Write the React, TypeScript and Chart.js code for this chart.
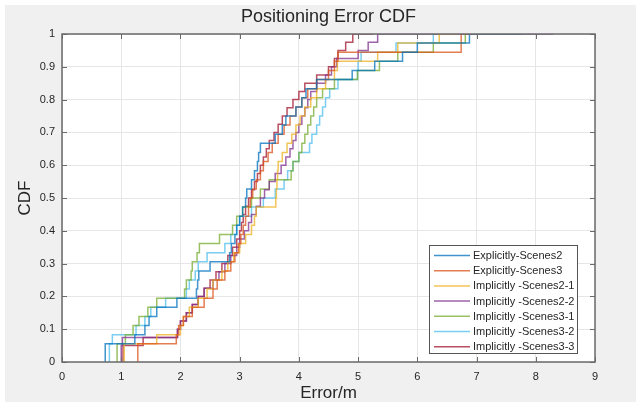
import React, { useEffect, useRef } from "react";
import { Chart, registerables } from "chart.js";

Chart.register(...registerables);

const TITLE = "Positioning Error CDF";
const X_LABEL = "Error/m";
const Y_LABEL = "CDF";

const SERIES_NAMES = [
  "Explicitly-Scenes2",
  "Explicitly-Scenes3",
  "Implicitly -Scenes2-1",
  "Implicitly -Scenes2-2",
  "Implicitly -Scenes3-1",
  "Implicitly -Scenes3-2",
  "Implicitly -Scenes3-3",
];

const SERIES_COLORS = [
  "rgba(0,114,189,0.75)",
  "rgba(217,83,25,0.75)",
  "rgba(237,177,32,0.75)",
  "rgba(126,47,142,0.75)",
  "rgba(119,172,48,0.75)",
  "rgba(77,190,238,0.75)",
  "rgba(162,20,47,0.75)",
];

// Error samples (m) for each method, read from the CDF steps
const EXPLICIT_S2 = [0.73, 1.23, 1.4, 1.47, 1.6, 1.94, 2.27, 2.29, 2.31, 2.5, 2.83, 2.86, 2.92, 2.95, 3.0, 3.05, 3.1, 3.12, 3.2, 3.25, 3.3, 3.32, 3.35, 3.6, 3.72, 3.78, 3.95, 4.05, 4.12, 4.3, 4.9, 5.28, 5.75, 6.0, 6.88, 7.76];
const EXPLICIT_S3 = [1.28, 1.93, 1.97, 2.05, 2.2, 2.4, 2.55, 2.62, 2.75, 2.85, 2.92, 2.98, 3.02, 3.06, 3.1, 3.15, 3.18, 3.22, 3.28, 3.35, 3.4, 3.48, 3.55, 3.65, 3.75, 3.85, 3.95, 4.05, 4.15, 4.3, 4.5, 4.6, 4.66, 6.74, 6.74, 7.03];
const IMPLICIT_S2_1 = [1.05, 1.6, 2.0, 2.05, 2.15, 2.3, 2.45, 2.55, 2.7, 2.8, 2.9, 3.0, 3.1, 3.2, 3.25, 3.28, 3.61, 3.62, 3.63, 3.64, 3.65, 3.72, 3.8, 3.88, 3.95, 4.02, 4.1, 4.2, 4.3, 4.45, 4.6, 4.65, 5.33, 5.67, 6.37, 6.68];
const IMPLICIT_S2_2 = [1.0, 1.02, 1.95, 2.0, 2.1, 2.2, 2.3, 2.4, 2.55, 2.65, 2.75, 2.85, 2.95, 3.0, 3.08, 3.15, 3.2, 3.28, 3.35, 3.42, 3.5, 3.6, 3.7, 3.78, 3.85, 3.9, 3.95, 4.0, 4.05, 4.1, 4.15, 4.2, 4.3, 4.45, 4.55, 4.64, 5.0, 5.17, 5.33, 8.29];
const IMPLICIT_S3_1 = [0.93, 1.07, 1.2, 1.3, 1.45, 1.6, 2.07, 2.1, 2.18, 2.2, 2.28, 2.32, 2.66, 2.88, 2.95, 3.05, 3.2, 3.35, 3.5, 3.87, 3.9, 4.0, 4.05, 4.1, 4.15, 4.2, 4.25, 4.3, 4.4, 4.6, 4.99, 5.36, 5.67, 6.27, 6.81, 6.99];
const IMPLICIT_S3_2 = [0.8, 0.85, 1.25, 1.4, 1.5, 1.75, 2.1, 2.15, 2.25, 2.3, 2.45, 2.75, 2.85, 2.95, 3.0, 3.2, 3.4, 3.6, 3.75, 3.81, 3.9, 4.0, 4.18, 4.22, 4.3, 4.35, 4.4, 4.45, 4.52, 4.66, 4.99, 5.0, 5.05, 5.64, 6.27, 6.33];
const IMPLICIT_S3_3 = [1.03, 1.37, 1.95, 2.0, 2.1, 2.2, 2.3, 2.4, 2.5, 2.6, 2.7, 2.8, 2.88, 2.95, 3.0, 3.03, 3.06, 3.1, 3.15, 3.2, 3.25, 3.3, 3.35, 3.4, 3.45, 3.5, 3.58, 3.65, 3.72, 3.8, 3.9, 4.0, 4.1, 4.3, 4.5, 4.6, 4.66, 4.79, 4.91, 5.26];

const SERIES_SAMPLES = [EXPLICIT_S2, EXPLICIT_S3, IMPLICIT_S2_1, IMPLICIT_S2_2, IMPLICIT_S3_1, IMPLICIT_S3_2, IMPLICIT_S3_3];

const X_TICKS = [0, 1, 2, 3, 4, 5, 6, 7, 8, 9];
const X_TICK_LABELS = ["0", "1", "2", "3", "4", "5", "6", "7", "8", "9"];
const Y_TICKS = [0, 0.1, 0.2, 0.3, 0.4, 0.5, 0.6, 0.7, 0.8, 0.9, 1];
const Y_TICK_LABELS = ["0", "0.1", "0.2", "0.3", "0.4", "0.5", "0.6", "0.7", "0.8", "0.9", "1"];

const FONT = "'Liberation Sans', Arial, Helvetica, sans-serif";
const TEXT_COLOR = "#262626";
const AXIS_COLOR = "#6a6a6a";

function ecdf(samples: number[]) {
  const s = [...samples].sort((a, b) => a - b);
  const n = s.length;
  const pts = [{ x: s[0], y: 0 }];
  s.forEach((v, i) => pts.push({ x: v, y: (i + 1) / n }));
  return pts;
}

const framePlugin = {
  id: "matlabFrame",
  beforeDraw(chart: any) {
    const { ctx, chartArea: a, width, height } = chart;
    ctx.save();
    ctx.fillStyle = "#ffffff";
    ctx.fillRect(0, 0, width, height);
    ctx.fillStyle = "#f0f0f0";
    ctx.fillRect(5, 5, width - 5, height - 9);
    ctx.fillStyle = "#ffffff";
    ctx.fillRect(a.left, a.top, a.right - a.left, a.bottom - a.top);
    ctx.restore();
  },
  afterDatasetsDraw(chart: any) {
    const { ctx, chartArea: a, scales } = chart;
    const xs = scales.x;
    const ys = scales.y;
    ctx.save();
    ctx.strokeStyle = AXIS_COLOR;
    ctx.lineWidth = 1;
    ctx.beginPath();
    const tl = 5;
    X_TICKS.forEach((v) => {
      const px = Math.round(xs.getPixelForValue(v)) + 0.5;
      ctx.moveTo(px, a.bottom);
      ctx.lineTo(px, a.bottom - tl);
      ctx.moveTo(px, a.top);
      ctx.lineTo(px, a.top + tl);
    });
    Y_TICKS.forEach((v) => {
      const py = Math.round(ys.getPixelForValue(v)) + 0.5;
      ctx.moveTo(a.left, py);
      ctx.lineTo(a.left + tl, py);
      ctx.moveTo(a.right, py);
      ctx.lineTo(a.right - tl, py);
    });
    ctx.stroke();
    ctx.lineWidth = 1.5;
    ctx.strokeRect(a.left, a.top, a.right - a.left, a.bottom - a.top);
    ctx.restore();
  },
  afterDraw(chart: any) {
    const { ctx, chartArea: a } = chart;
    ctx.save();
    // title, centred over the axes box as in MATLAB
    ctx.font = `18px ${FONT}`;
    ctx.fillStyle = TEXT_COLOR;
    ctx.textAlign = "center";
    ctx.textBaseline = "middle";
    ctx.fillText(TITLE, (a.left + a.right) / 2, 17.5);

    // legend
    const left = a.right - 166;
    const top = a.bottom - 117;
    const w = 148;
    const h = 108;
    ctx.fillStyle = "#ffffff";
    ctx.fillRect(left, top, w, h);
    ctx.strokeStyle = "#555555";
    ctx.lineWidth = 1;
    ctx.strokeRect(left + 0.5, top + 0.5, w, h);
    ctx.font = `11px ${FONT}`;
    ctx.textBaseline = "middle";
    ctx.textAlign = "left";
    SERIES_NAMES.forEach((name, i) => {
      const cy = top + 10.5 + i * 15.2;
      ctx.strokeStyle = SERIES_COLORS[i];
      ctx.lineWidth = 1.5;
      ctx.beginPath();
      ctx.moveTo(left + 5, cy);
      ctx.lineTo(left + 41, cy);
      ctx.stroke();
      ctx.fillStyle = TEXT_COLOR;
      ctx.fillText(name, left + 44, cy + 0.5);
    });
    ctx.restore();
  },
};

export default function App() {
  const canvasRef = useRef<HTMLCanvasElement | null>(null);

  useEffect(() => {
    const canvas = canvasRef.current;
    if (!canvas) return;
    const chart = new Chart(canvas, {
      type: "line",
      data: {
        datasets: SERIES_SAMPLES.map((samples, i) => ({
          label: SERIES_NAMES[i],
          data: ecdf(samples),
          borderColor: SERIES_COLORS[i],
          backgroundColor: SERIES_COLORS[i],
          borderWidth: 1.5,
          pointRadius: 0,
          stepped: "after" as const,
          fill: false,
        })),
      },
      options: {
        animation: false,
        responsive: false,
        maintainAspectRatio: false,
        events: [],
        layout: { padding: { left: 0, right: 41, top: 34, bottom: 0 } },
        plugins: {
          legend: { display: false },
          tooltip: { enabled: false },
          title: { display: false },
        },
        scales: {
          x: {
            type: "linear",
            min: 0,
            max: 9,
            afterBuildTicks: (s: any) => {
              s.ticks = X_TICKS.map((v) => ({ value: v }));
            },
            afterFit: (s: any) => {
              s.height = 44;
            },
            grid: { color: "#e6e6e6", drawTicks: false, lineWidth: 1 },
            border: { display: false },
            ticks: {
              color: TEXT_COLOR,
              font: { family: FONT, size: 11 },
              padding: 8,
              maxRotation: 0,
              autoSkip: false,
              callback: (_v: any, i: number) => X_TICK_LABELS[i],
            },
            title: {
              display: true,
              text: X_LABEL,
              color: TEXT_COLOR,
              font: { family: FONT, size: 17 },
              padding: { top: 0, bottom: 2 },
            },
          },
          y: {
            type: "linear",
            min: 0,
            max: 1,
            afterBuildTicks: (s: any) => {
              s.ticks = Y_TICKS.map((v) => ({ value: v }));
            },
            afterFit: (s: any) => {
              s.width = 62;
            },
            grid: { color: "#e6e6e6", drawTicks: false, lineWidth: 1 },
            border: { display: false },
            ticks: {
              color: TEXT_COLOR,
              font: { family: FONT, size: 11 },
              padding: 7,
              autoSkip: false,
              callback: (_v: any, i: number) => Y_TICK_LABELS[i],
            },
            title: {
              display: true,
              text: Y_LABEL,
              color: TEXT_COLOR,
              font: { family: FONT, size: 17 },
              padding: { top: 15, bottom: 0 },
            },
          },
        },
      },
      plugins: [framePlugin],
    });
    return () => chart.destroy();
  }, []);

  return (
    <div style={{ position: "absolute", left: 0, top: 0, width: 636, height: 406 }}>
      <canvas ref={canvasRef} width={636} height={406} style={{ display: "block" }} />
    </div>
  );
}
